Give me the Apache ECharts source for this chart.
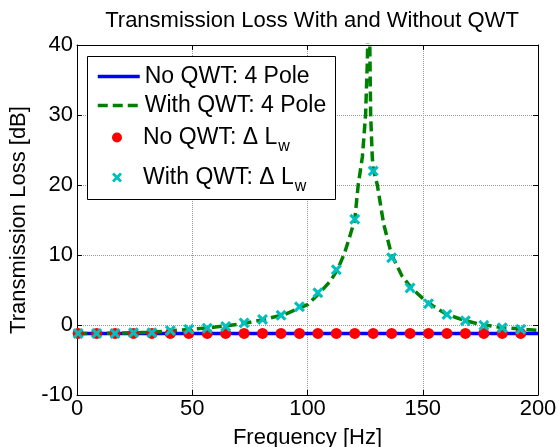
<!DOCTYPE html>
<html><head><meta charset="utf-8">
<script src="https://cdn.jsdelivr.net/npm/echarts@6/dist/echarts.min.js"></script>
<style>html,body{margin:0;padding:0;background:#fff}#c{width:559px;height:447px}</style>
</head><body><div id="c"></div>
<script>
const titleText = 'Transmission Loss With and Without QWT';
const xLabel = 'Frequency [Hz]';
const yLabel = 'Transmission Loss [dB]';
const seriesNames = ['No QWT: 4 Pole', 'With QWT: 4 Pole', 'No QWT: \u0394 L_w', 'With QWT: \u0394 L_w'];
const legendLabels = ['No QWT: 4 Pole', 'With QWT: 4 Pole', '{gap| }No QWT: \u0394 L{sub|w}', '{gap| }With QWT: \u0394 L{sub|w}'];

const xTicks = [0, 50, 100, 150, 200];
const yTicks = [-10, 0, 10, 20, 30, 40];

const noQwtCurveFreq = [0, 200];
const noQwtCurveTL = [-1.2, -1.2];

const withQwtCurveFreq = [0, 10, 20, 30, 40, 50, 60, 70, 80, 90, 100, 105, 110, 113, 116, 118, 120.5, 122, 123.8, 125.2, 126, 126.6, 127.1, 127.4, 128.1, 128.5, 130.3, 133, 136.5, 141, 145, 150, 155, 160, 165, 170, 175, 180, 185, 190, 195, 200];
const withQwtCurveTL = [-1.2, -1.2, -1.15, -1.05, -0.85, -0.6, -0.3, 0.1, 0.7, 1.5, 2.9, 4.5, 6.3, 7.9, 10.2, 12.3, 15, 20, 24, 30, 38, 55, 38, 30, 24, 22.3, 20, 14.5, 10, 7, 5.3, 3.8, 2.6, 1.6, 1.0, 0.5, 0.1, -0.15, -0.4, -0.5, -0.65, -0.76];

const markerFreq = [0.5, 8.5, 16.5, 24.5, 32.5, 40.5, 48.5, 56.5, 64.5, 72.5, 80.5, 88.5, 96.5, 104.5, 112.5, 120.5, 128.5, 136.5, 144.5, 152.5, 160.5, 168.5, 176.5, 184.5, 192.5];
const noQwtMarkerTL = [-1.2, -1.2, -1.2, -1.2, -1.2, -1.2, -1.2, -1.2, -1.2, -1.2, -1.2, -1.2, -1.2, -1.2, -1.2, -1.2, -1.2, -1.2, -1.2, -1.2, -1.2, -1.2, -1.2, -1.2, -1.2];
const withQwtMarkerTL = [-1.2, -1.2, -1.2, -1.1, -1.1, -0.8, -0.6, -0.45, -0.2, 0.3, 0.8, 1.4, 2.6, 4.6, 7.9, 15.1, 22.0, 9.6, 5.3, 3.05, 1.5, 0.6, -0.05, -0.4, -0.6];

const pairs = (xs, ys) => xs.map((x, i) => [x, ys[i]]);
const FONT = 'Liberation Sans, Arial, Helvetica, sans-serif';
const xSymbol = 'path://M2,0 L5,3 L8,0 L10,2 L7,5 L10,8 L8,10 L5,7 L2,10 L0,8 L3,5 L0,2 Z';

const COLORS = ['#0000ff', '#008000', '#ff0000', '#00bfbf'];

const chart = echarts.init(document.getElementById('c'), null, { renderer: 'canvas' });

const gridBox = { left: 77, right: 21, top: 45, bottom: 52, outerBoundsMode: 'none', containLabel: false };

const axisCommon = {
  type: 'value',
  axisLine: { show: true, onZero: false, lineStyle: { color: '#000', width: 1 } },
  axisTick: { show: true, inside: true, length: 5, lineStyle: { color: '#000' } },
  splitLine: { show: false }
};

const legendTops = [65, 94, 126, 166];
const legendLefts = [96, 96, 112, 112];
const legendWidths = [42, 42, 10, 10];
const legendHeights = [14, 14, 10, 10];

const legends = seriesNames.map((name, i) => {
  const lg = {
    data: [name],
    left: legendLefts[i],
    top: legendTops[i],
    z: 20,
    itemWidth: legendWidths[i],
    itemHeight: legendHeights[i],
    itemGap: 0,
    padding: 0,
    selectedMode: false,
    formatter: () => legendLabels[i],
    textStyle: {
      fontFamily: FONT, fontSize: 23, color: '#000',
      rich: {
        gap: { width: 16, fontSize: 23 },
        sub: { fontFamily: FONT, fontSize: 16, color: '#000', padding: [18, 0, 0, 1] }
      }
    }
  };
  if (i < 2) {
    lg.itemStyle = { color: 'rgba(0,0,0,0)', borderWidth: 0, opacity: 0 };
    lg.lineStyle = { color: COLORS[i], width: 3.5, type: i === 1 ? [10, 5] : 'solid', opacity: 1 };
  }
  return lg;
});

const option = {
  animation: false,
  backgroundColor: '#fff',
  title: {
    text: titleText,
    left: 307,
    textAlign: 'center',
    top: 5,
    textStyle: { fontFamily: FONT, fontSize: 22, fontWeight: 'normal', color: '#000' }
  },
  legend: legends,
  graphic: [{
    type: 'rect', left: 87, top: 56, z: 1,
    shape: { width: 248, height: 143 },
    style: { fill: '#fff', stroke: '#000', lineWidth: 1 }
  }],
  grid: gridBox,
  xAxis: [
    Object.assign({}, axisCommon, {
      min: 0, max: 200, interval: 50,
      name: xLabel, nameLocation: 'middle', nameGap: 32,
      nameTextStyle: { fontFamily: FONT, fontSize: 22, color: '#000' },
      axisLabel: { fontFamily: FONT, fontSize: 22, color: '#000', margin: 3,
        formatter: v => xTicks.includes(v) ? String(v) : '' },
      splitLine: { show: true, lineStyle: { color: '#999', type: [1, 1], width: 1 } }
    }),
    Object.assign({}, axisCommon, {
      min: 0, max: 200, interval: 50, position: 'top',
      axisLabel: { show: false }
    })
  ],
  yAxis: [
    Object.assign({}, axisCommon, {
      min: -10, max: 40, interval: 10,
      name: yLabel, nameLocation: 'middle', nameGap: 43,
      nameTextStyle: { fontFamily: FONT, fontSize: 22, color: '#000' },
      axisLabel: { fontFamily: FONT, fontSize: 22, color: '#000', margin: 4,
        formatter: v => yTicks.includes(v) ? String(v) : '' },
      splitLine: { show: true, lineStyle: { color: '#999', type: [1, 1], width: 1 } }
    }),
    Object.assign({}, axisCommon, {
      min: -10, max: 40, interval: 10, position: 'right',
      axisLabel: { show: false }
    })
  ],
  series: [
    {
      name: seriesNames[0], type: 'line', symbol: 'none', clip: true, z: 2,
      data: pairs(noQwtCurveFreq, noQwtCurveTL),
      lineStyle: { color: COLORS[0], width: 3.5 },
      itemStyle: { color: COLORS[0] }
    },
    {
      name: seriesNames[1], type: 'line', symbol: 'none', clip: true, z: 3,
      data: pairs(withQwtCurveFreq, withQwtCurveTL),
      lineStyle: { color: COLORS[1], width: 3.5, type: [10, 5] },
      itemStyle: { color: COLORS[1] }
    },
    {
      name: seriesNames[2], type: 'scatter', symbol: 'circle', symbolSize: 11, z: 4,
      data: pairs(markerFreq, noQwtMarkerTL),
      itemStyle: { color: COLORS[2], opacity: 1 }
    },
    {
      name: seriesNames[3], type: 'scatter', symbol: xSymbol, symbolSize: 11, z: 5,
      data: pairs(markerFreq, withQwtMarkerTL),
      itemStyle: { color: COLORS[3], opacity: 1 }
    }
  ]
};
chart.setOption(option);
</script></body></html>
